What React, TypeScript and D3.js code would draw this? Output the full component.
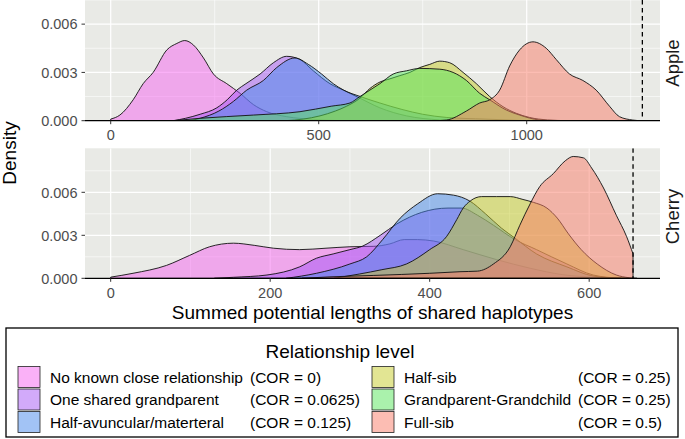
import React from "react";
import * as d3 from "d3";

type Pt = [number, number];

const categories = [
  "No known close relationship",
  "One shared grandparent",
  "Half-avuncular/materteral",
  "Half-sib",
  "Grandparent-Grandchild",
  "Full-sib",
];
const corLabels = ["(COR = 0)", "(COR = 0.0625)", "(COR = 0.125)", "(COR = 0.25)", "(COR = 0.25)", "(COR = 0.5)"];
const colors = ["#F564F0", "#A555F5", "#4687EB", "#C5CC28", "#55E55A", "#F97C68"];

// Apple densities [summed length, density]
const appleNoKnown: Pt[] = [[0,0.0001],[22,0.00035],[54,0.0013],[78,0.0023],[102,0.003],[135,0.0044],[159,0.0048],[178,0.00498],[199,0.0047],[223,0.0039],[247,0.0029],[279,0.0023],[311,0.0017],[343,0.001],[375,0.00056],[423,0.00025],[487,0.00008],[550,0]];
const appleOneShared: Pt[] = [[150,0],[180,0.00015],[215,0.0004],[255,0.0008],[280,0.0013],[303,0.0019],[325,0.0023],[359,0.0029],[391,0.0036],[423,0.004],[455,0.0038],[487,0.0031],[527,0.0023],[559,0.0019],[599,0.0014],[647,0.0008],[711,0.0003],[791,0.00005],[830,0]];
const appleHalfAv: Pt[] = [[190,0],[215,0.00015],[260,0.0006],[295,0.0012],[327,0.0019],[367,0.0025],[399,0.0033],[443,0.0039],[475,0.0035],[507,0.0029],[535,0.0023],[560,0.0019],[600,0.0015],[647,0.0011],[700,0.0007],[750,0.0004],[808,0.0002],[900,0.0001],[1000,0]];
const appleHalfSib: Pt[] = [[420,0],[463,0.0001],[503,0.0003],[540,0.0006],[567,0.0009],[599,0.0014],[623,0.002],[647,0.0024],[671,0.0026],[695,0.0028],[719,0.003],[743,0.0033],[767,0.0035],[791,0.0037],[815,0.0036],[847,0.003],[879,0.0023],[911,0.0015],[943,0.00087],[975,0.00046],[1007,0.0002],[1050,0.00005],[1100,0]];
const appleGpGc: Pt[] = [[150,0],[215,0.00015],[343,0.00035],[455,0.00056],[530,0.0009],[575,0.0011],[599,0.0015],[623,0.0019],[647,0.0023],[679,0.0029],[711,0.0031],[743,0.00325],[791,0.0032],[823,0.003],[855,0.0025],[887,0.0017],[911,0.0013],[951,0.00066],[983,0.00035],[1031,0.00004],[1060,0]];
const appleFullSib: Pt[] = [[780,0],[807,0.00004],[855,0.0006],[887,0.0011],[911,0.0013],[935,0.0019],[959,0.0034],[983,0.0044],[1015,0.0049],[1047,0.0045],[1071,0.0038],[1103,0.0029],[1135,0.0025],[1167,0.0019],[1199,0.0009],[1223,0.00025],[1255,0.00004],[1270,0]];

// Cherry densities (no Grandparent-Grandchild pairs)
const cherryNoKnown: Pt[] = [[0,0.00008],[28,0.00035],[70,0.0009],[99,0.0016],[124,0.0022],[154,0.00245],[180,0.0023],[204,0.0021],[237,0.002],[270,0.0021],[300,0.0022],[330,0.00223],[350,0.0024],[368,0.0027],[385,0.0027],[405,0.0026],[442,0.002],[484,0.0013],[526,0.0007],[567,0.00025],[609,0.00007],[650,0]];
const cherryOneShared: Pt[] = [[130,0],[154,0.00007],[196,0.00023],[237,0.0008],[258,0.0014],[279,0.0017],[300,0.002],[316,0.00225],[338,0.003],[359,0.0038],[390,0.0046],[423,0.0049],[440,0.0049],[460,0.0044],[480,0.0037],[507,0.0027],[534,0.002],[572,0.001],[605,0.00023],[640,0]];
const cherryHalfAv: Pt[] = [[220,0],[258,0.00035],[300,0.001],[321,0.0015],[341,0.0027],[363,0.0042],[385,0.0052],[410,0.0059],[430,0.0058],[450,0.0054],[470,0.0045],[490,0.0035],[507,0.0028],[534,0.0017],[572,0.0008],[605,0.00016],[640,0]];
const cherryHalfSib: Pt[] = [[280,0],[312,0.0003],[340,0.0006],[371,0.001],[400,0.002],[421,0.0029],[434,0.0041],[442,0.0049],[451,0.0054],[465,0.0057],[484,0.0057],[501,0.0057],[517,0.0055],[530,0.0053],[547,0.0049],[560,0.0042],[574,0.0031],[590,0.002],[610,0.001],[634,0.00023],[650,0.00004],[660,0]];
const cherryGpGc: Pt[] = [];
const cherryFullSib: Pt[] = [[240,0],[275,0.0001],[330,0.0002],[400,0.00035],[438,0.00046],[460,0.0005],[480,0.001],[501,0.0022],[513,0.0037],[526,0.0052],[538,0.0064],[555,0.0073],[570,0.0082],[580,0.0085],[593,0.0084],[603,0.0077],[618,0.0063],[634,0.0044],[647,0.0029],[655,0.0017]];

const appleSeries = [appleNoKnown, appleOneShared, appleHalfAv, appleHalfSib, appleGpGc, appleFullSib];
const cherrySeries = [cherryNoKnown, cherryOneShared, cherryHalfAv, cherryHalfSib, cherryGpGc, cherryFullSib];

const appleXTicks = [0, 500, 1000];
const appleXMinor = [250, 750, 1250];
const cherryXTicks = [0, 200, 400, 600];
const cherryXMinor = [100, 300, 500];
const yTicks = [0, 0.003, 0.006];
const yMinor = [0.0015, 0.0045, 0.0075];
const appleMaxLine = 1278;
const cherryMaxLine = 655;

const FONT = "'Liberation Sans', Arial, Helvetica, sans-serif";
const PL = 85, PR = 660;

function Panel(props: {
  id: string; top: number; bottom: number; xDomain: [number, number]; yMax: number;
  xTicks: number[]; xMinor: number[]; series: Pt[][]; vline: number; label: string; labelY: number;
}) {
  const { id, top, bottom, xDomain, yMax, xTicks, xMinor, series, vline, label, labelY } = props;
  const x = d3.scaleLinear().domain(xDomain).range([PL, PR]);
  const y = d3.scaleLinear().domain([0, yMax]).range([bottom, top]);
  const area = d3.area<Pt>().x(d => x(d[0])).y0(y(0)).y1(d => y(d[1])).curve(d3.curveMonotoneX);
  const fmt = d3.format(".3f");
  return (
    <g>
      <defs>
        <clipPath id={id}><rect x={PL} y={top} width={PR - PL} height={bottom - top} /></clipPath>
      </defs>
      <rect x={PL} y={top} width={PR - PL} height={bottom - top} fill="#E9EAE6" />
      <g clipPath={`url(#${id})`}>
        {xMinor.map(v => <line key={"xm" + v} x1={x(v)} x2={x(v)} y1={top} y2={bottom} stroke="#fff" strokeWidth={0.6} />)}
        {yMinor.map(v => <line key={"ym" + v} x1={PL} x2={PR} y1={y(v)} y2={y(v)} stroke="#fff" strokeWidth={0.6} />)}
        {xTicks.map(v => <line key={"xM" + v} x1={x(v)} x2={x(v)} y1={top} y2={bottom} stroke="#fff" strokeWidth={1.2} />)}
        {yTicks.map(v => <line key={"yM" + v} x1={PL} x2={PR} y1={y(v)} y2={y(v)} stroke="#fff" strokeWidth={1.2} />)}
        {series.map((s, i) => s.length ? (
          <path key={i} d={area(s) || ""} fill={colors[i]} fillOpacity={0.5} stroke="#111" strokeWidth={0.9} strokeLinejoin="round" />
        ) : null)}
        <line x1={x(vline)} x2={x(vline)} y1={top} y2={bottom} stroke="#000" strokeWidth={1.3} strokeDasharray="4.5,3.5" />
      </g>
      <line x1={PL} x2={PR} y1={bottom} y2={bottom} stroke="#000" strokeWidth={1.2} />
      {yTicks.map(v => (
        <g key={"yt" + v}>
          <line x1={PL - 3.5} x2={PL} y1={y(v)} y2={y(v)} stroke="#333" strokeWidth={1} />
          <text x={PL - 7.5} y={y(v)} dy="0.36em" textAnchor="end" fontSize={14.5} fill="#4D4D4D" fontFamily={FONT}>{fmt(v)}</text>
        </g>
      ))}
      {xTicks.map(v => (
        <g key={"xt" + v}>
          <line x1={x(v)} x2={x(v)} y1={bottom} y2={bottom + 3.5} stroke="#333" strokeWidth={1} />
          <text x={x(v)} y={bottom + 19.5} textAnchor="middle" fontSize={14.5} fill="#4D4D4D" fontFamily={FONT}>{v}</text>
        </g>
      ))}
      <text transform={`translate(679,${labelY}) rotate(-90)`} textAnchor="middle" fontSize={18.5} fill="#1A1A1A" fontFamily={FONT}>{label}</text>
    </g>
  );
}

export default function App() {
  const legendX = [18, 372];
  const labelX = [50, 404];
  const corX = [250, 578];
  const rowY = [377, 399.5, 422];
  return (
    <svg width={685} height={439} style={{ position: "absolute", left: 0, top: 0, background: "#fff" }}>
      <Panel id="clipA" top={0} bottom={120.7} xDomain={[-61.8, 1320.4]} yMax={0.0075}
        xTicks={appleXTicks} xMinor={appleXMinor} series={appleSeries} vline={appleMaxLine} label="Apple" labelY={63} />
      <Panel id="clipC" top={148.3} bottom={278.3} xDomain={[-32.2, 688.8]} yMax={0.00907}
        xTicks={cherryXTicks} xMinor={cherryXMinor} series={cherrySeries} vline={cherryMaxLine} label="Cherry" labelY={216.5} />
      <text transform="translate(15.5,153) rotate(-90)" textAnchor="middle" fontSize={19} fill="#000" fontFamily={FONT}>Density</text>
      <text x={372.5} y={319} textAnchor="middle" fontSize={19} fill="#000" fontFamily={FONT}>Summed potential lengths of shared haplotypes</text>
      <rect x={6} y={328} width={672} height={109} fill="#fff" stroke="#000" strokeWidth={1.3} />
      <text x={340} y={358} textAnchor="middle" fontSize={19} fill="#000" fontFamily={FONT}>Relationship level</text>
      {categories.map((c, i) => {
        const col = Math.floor(i / 3), row = i % 3;
        return (
          <g key={c}>
            <rect x={legendX[col]} y={rowY[row] - 10.5} width={22} height={21} fill="#fff" />
            <rect x={legendX[col]} y={rowY[row] - 10.5} width={22} height={21} fill={colors[i]} fillOpacity={0.5} stroke="#222" strokeWidth={0.8} />
            <text x={labelX[col]} y={rowY[row]} dy="0.36em" fontSize={15.5} fill="#000" fontFamily={FONT}>{c}</text>
            <text x={corX[col]} y={rowY[row]} dy="0.36em" fontSize={15.5} fill="#000" fontFamily={FONT}>{corLabels[i]}</text>
          </g>
        );
      })}
    </svg>
  );
}
